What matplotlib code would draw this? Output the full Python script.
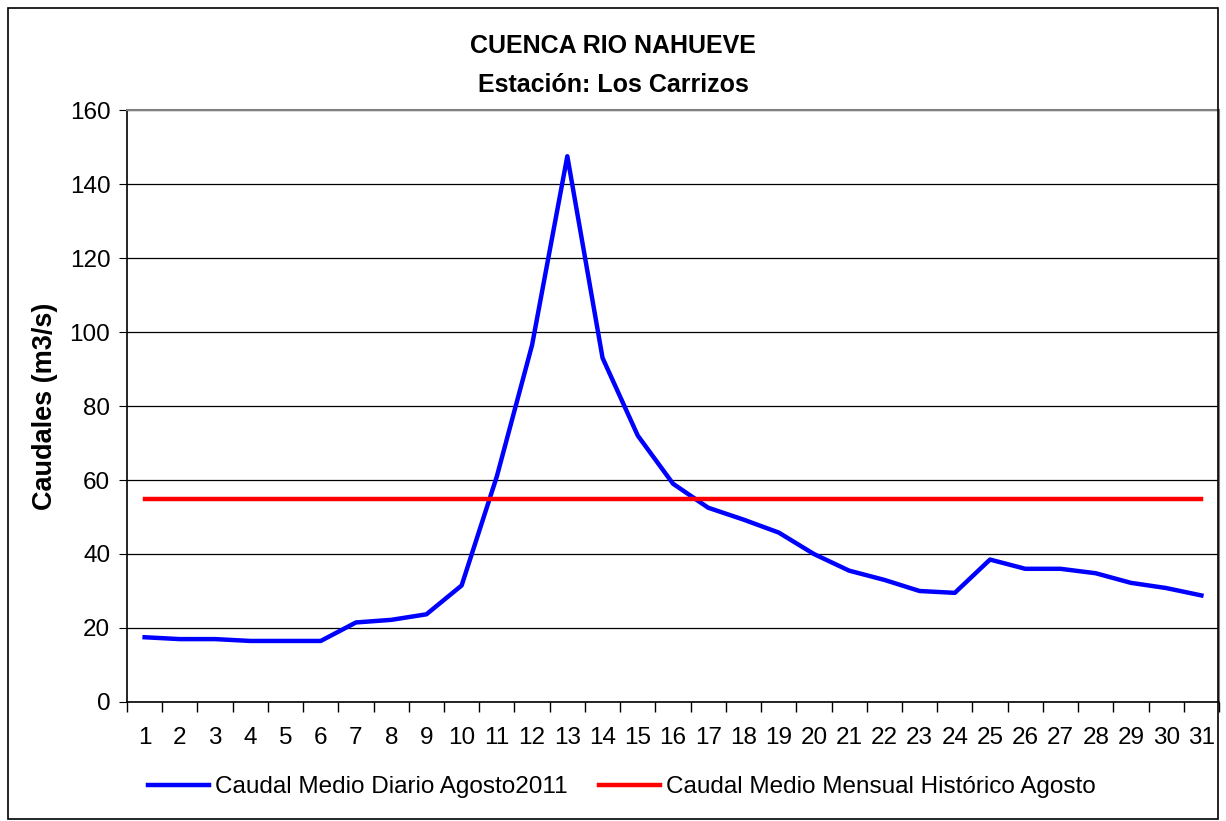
import numpy as np
import matplotlib.pyplot as plt
from matplotlib.patches import Rectangle

plt.rcParams['font.family'] = ['Liberation Sans', 'DejaVu Sans']

days = list(range(1, 32))
caudal_diario = [17.5, 17.0, 17.0, 16.5, 16.5, 16.5, 21.5, 22.2, 23.7, 31.5,
                 61.0, 96.5, 147.5, 93.0, 72.0, 59.0, 52.5, 49.3, 45.8, 40.0,
                 35.5, 33.0, 30.0, 29.5, 38.5, 36.0, 36.0, 34.8, 32.2, 30.8,
                 28.8]
caudal_historico = [55.0] * 31

fig = plt.figure(figsize=(12.26, 8.21), dpi=100)
ax = fig.add_axes([127 / 1226, 1 - 702 / 821, (1219 - 127) / 1226, (702 - 110) / 821])

# marco exterior del gráfico
fig.patches.append(Rectangle((8 / 1226, 0.002), 1 - 16 / 1226, 1 - 8 / 821 - 0.002,
                             transform=fig.transFigure, fill=False,
                             edgecolor='black', linewidth=1.2))

ax.plot(days, caudal_diario, color='#0000ff', linewidth=3.2,
        label='Caudal Medio Diario Agosto2011', zorder=3)
ax.plot(days, caudal_historico, color='#ff0000', linewidth=3.2,
        label='Caudal Medio Mensual Histórico Agosto', zorder=3)

ax.set_xlim(0.5, 31.5)
ax.set_ylim(0, 160)
ax.set_yticks(np.arange(0, 161, 20))
ax.set_xticks(days)
ax.set_xticks(np.arange(0.5, 32, 1), minor=True)
ax.tick_params(axis='x', which='major', length=0, labelsize=17.5, pad=18)
ax.tick_params(axis='x', which='minor', length=7, width=1, direction='out')
ax.tick_params(axis='y', labelsize=17.5, length=6, direction='out', pad=6)
ax.yaxis.grid(True, color='black', linewidth=0.9)
ax.set_axisbelow(True)

for side in ['top', 'right']:
    ax.spines[side].set_color('#808080')
    ax.spines[side].set_linewidth(1.5)
for side in ['left', 'bottom']:
    ax.spines[side].set_color('black')
    ax.spines[side].set_linewidth(1.2)

ax.set_ylabel('Caudales (m3/s)', fontsize=19.5, fontweight='bold', labelpad=8)
fig.text(0.5, 1 - 46 / 821, 'CUENCA RIO NAHUEVE', ha='center', va='center',
         fontsize=18, fontweight='bold')
fig.text(0.5, 1 - 85 / 821, 'Estación: Los Carrizos', ha='center', va='center',
         fontsize=18, fontweight='bold')

fig.legend(loc='center', bbox_to_anchor=(0.507, 1 - 787 / 821), ncol=2,
           frameon=False, fontsize=17.5, handlelength=2.5, columnspacing=1.3,
           handletextpad=0.25)

fig.savefig('out.png', dpi=100)
